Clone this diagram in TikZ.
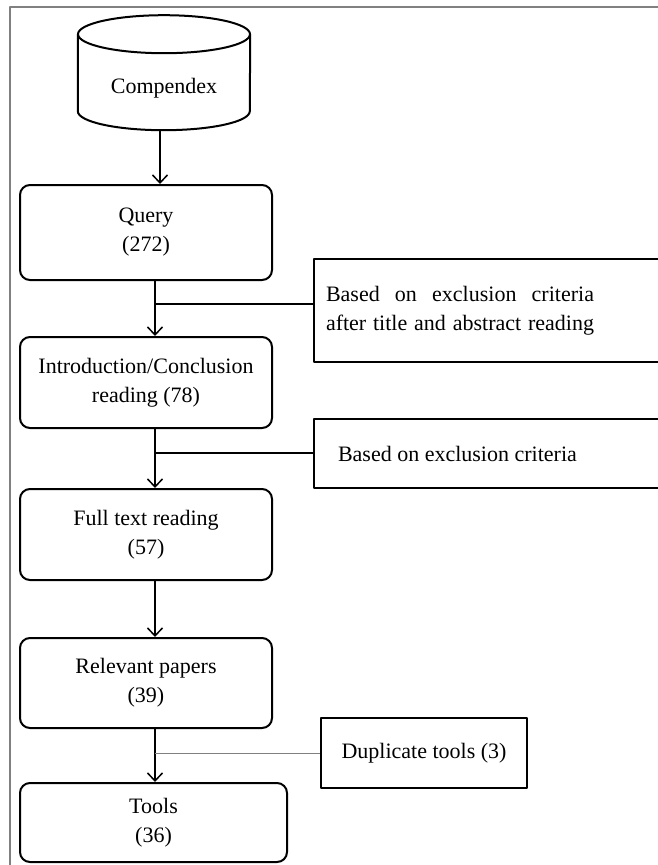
\documentclass[tikz,border=0pt]{standalone}
\usepackage{fontspec}
\setmainfont{Liberation Serif}
\usetikzlibrary{arrows.meta}

\begin{document}
\begin{tikzpicture}[x=1pt, y=-1pt, >={Straight Barb[length=8pt,width=15pt]}, line join=bevel,
  txt/.style={font=\fontsize{22}{29}\selectfont},
  stage/.style={txt, draw, line width=2pt, rounded corners=10pt, minimum width=252pt, align=center, inner sep=0pt},
  note/.style={txt, draw, line width=2pt, inner sep=0pt, anchor=west},
  flow/.style={->, line width=1.5pt}]
\useasboundingbox (0,0) rectangle (658,865);
\clip (0,0) rectangle (658,865);
%% frame
\draw [gray, line width=1.5pt] (10,865) -- (10,7) -- (658,7);
%%
\node (db) at (164,88) [txt, minimum width=172pt, minimum height=84pt] {Compendex};
\draw [line width=2pt]
  ([yshift=96pt]db.south west) -- ([yshift=19pt]db.south west)
  arc [start angle=180, end angle=360, x radius=86pt, y radius=19pt]
  -- ([yshift=96pt]db.south east);
\draw [line width=2pt] ([yshift=96pt]db.south) ellipse [x radius=86pt, y radius=19pt];

\node (query) at (146,232.5) [stage, minimum height=95pt] {Query\\(272)};
\node (intro) at (146,382.5) [stage, minimum height=91pt] {Introduction/Conclusion\\reading (78)};
\node (fulltext) at (146,534.5) [stage, minimum height=91pt] {Full text reading\\(57)};
\node (relevant) at (146,683) [stage, minimum height=90pt] {Relevant papers\\(39)};
\node (tools) at (153.5,822.5) [stage, minimum width=267pt, minimum height=79pt] {Tools\\(36)};

\node (crit1) at (313,310.5) [note, minimum height=103pt, inner xsep=12pt]
  {\parbox{268pt}{\parfillskip=0pt Based on exclusion criteria\linebreak after title and abstract reading}\kern70pt};
\node (crit2) at (313,453.5) [note, minimum height=69pt, inner xsep=24pt]
  {Based on exclusion criteria\kern100pt};
\node (dup) at (320,753) [note, minimum width=206pt, minimum height=70pt] {Duplicate tools (3)};

\coordinate (j1) at (155,304);
\coordinate (j2) at (155,453);
\coordinate (j3) at (155,753);

%% main flow
\draw [flow] ([xshift=-4pt]db.south) -- ([xshift=14pt]query.north);
\draw [flow] ([xshift=9pt]query.south) -- ([xshift=9pt]intro.north);
\draw [flow] ([xshift=9pt]intro.south) -- ([xshift=9pt]fulltext.north);
\draw [flow] ([xshift=9pt]fulltext.south) -- ([xshift=9pt]relevant.north);
\draw [flow] ([xshift=9pt]relevant.south) -- ([xshift=1.5pt]tools.north);

%% exclusions
\draw [line width=1.5pt] (j1) -- (crit1.west |- j1);
\draw [line width=1.5pt] (j2) -- (crit2.west |- j2);
\draw [gray, line width=1pt] (j3) -- (dup.west |- j3);
\end{tikzpicture}
\end{document}
